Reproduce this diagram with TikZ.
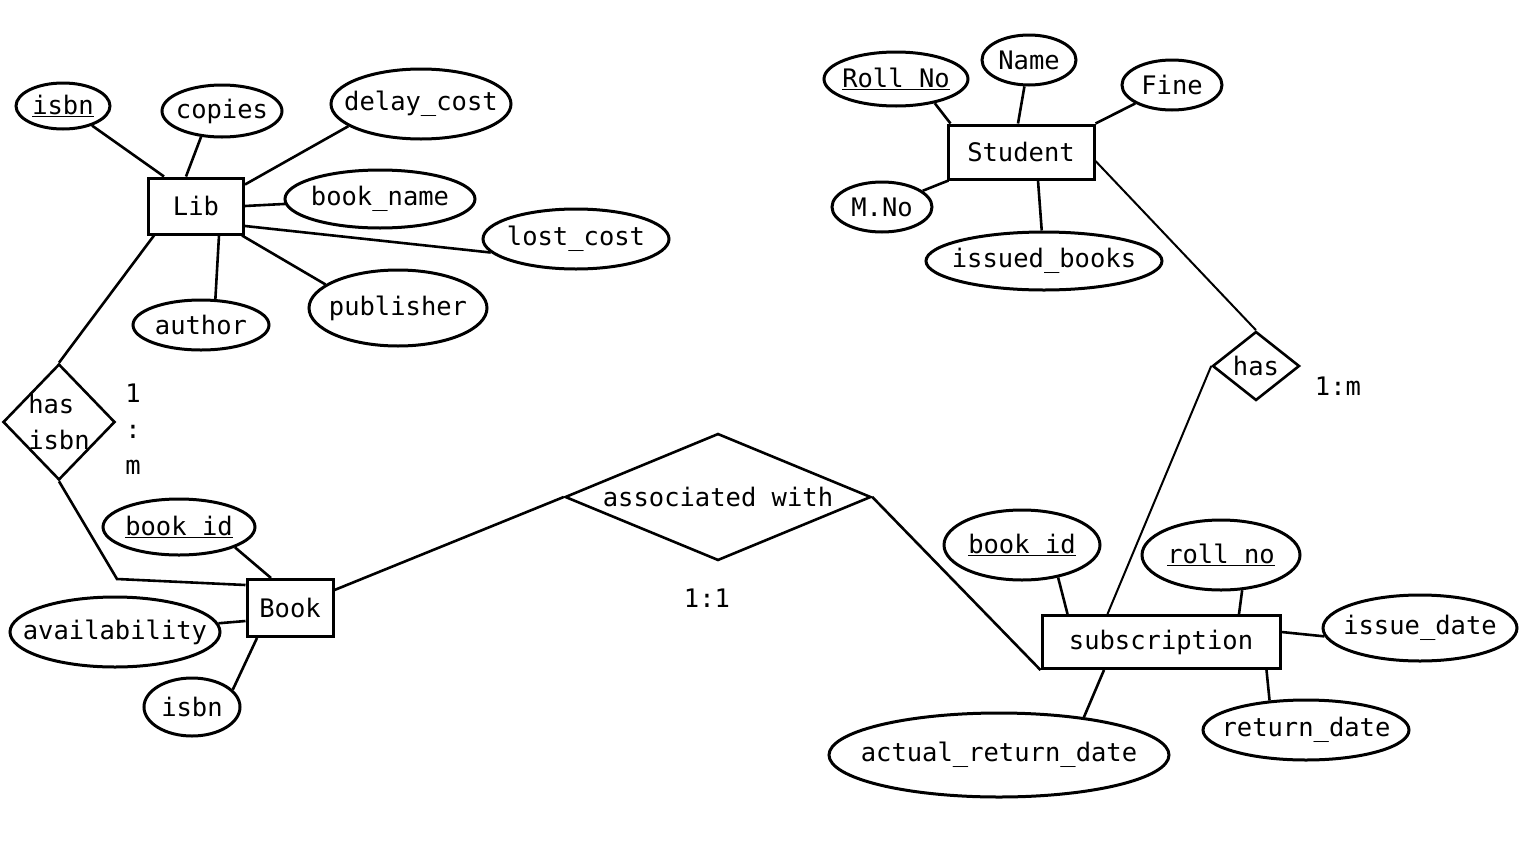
\documentclass[tikz,border=0pt]{standalone}
\usepackage{fontspec}
\setmainfont{DejaVu Sans Mono}
\usetikzlibrary{shapes.geometric}

\begin{document}
\begin{tikzpicture}[x=1pt,y=-1pt,
  every node/.style={font=\fontsize{25.5}{36}\selectfont},
  ent/.style={draw,line width=3pt,rectangle,inner sep=0pt},
  attr/.style={draw,line width=3pt,ellipse,inner xsep=-60pt,inner ysep=0pt},
  rel/.style={draw,line width=2.6pt,diamond,inner xsep=-120pt,inner ysep=0pt},
  lnk/.style={line width=2.6pt},
  rlnk/.style={line width=2pt}]
  \useasboundingbox (0,0) rectangle (1534,846);

  \node[ent,minimum width=95pt,minimum height=56pt] (lib) at (196,206) {Lib};
  \node[attr,minimum width=94pt,minimum height=46pt] (isbn) at (63,106) {\underline{isbn}};
  \node[attr,minimum width=120pt,minimum height=52pt] (copies) at (222,111) {copies};
  \node[attr,minimum width=180pt,minimum height=70pt] (delay) at (421,104) {delay\_cost};
  \node[attr,minimum width=190pt,minimum height=58pt] (bookname) at (380,199) {book\_name};
  \node[attr,minimum width=186pt,minimum height=60pt] (lostcost) at (576,239) {lost\_cost};
  \node[attr,minimum width=178pt,minimum height=76pt] (publisher) at (398,308) {publisher};
  \node[attr,minimum width=136pt,minimum height=50pt] (author) at (201,325) {author};

  \node[rel,minimum width=112pt,minimum height=116pt,align=left] (hasisbn) at (59,422) {has\\isbn};
  \node[align=center] (cardA) at (133,429) {1\\:\\m};
  \coordinate (bend) at (117,579);

  \node[ent,minimum width=86pt,minimum height=57pt] (book) at (290,608) {Book};
  \node[attr,minimum width=152pt,minimum height=56pt] (bookid) at (179,527) {\underline{book id}};
  \node[attr,minimum width=210pt,minimum height=70pt] (avail) at (115,632) {availability};
  \node[attr,minimum width=96pt,minimum height=58pt] (isbnB) at (192,707) {isbn};

  \node[rel,minimum width=306pt,minimum height=127pt] (assoc) at (718,497) {associated with};
  \node (cardB) at (707,598) {1:1};

  \node[ent,minimum width=146pt,minimum height=54pt] (student) at (1021,152) {Student};
  \node[attr,minimum width=144pt,minimum height=54pt] (rollnoS) at (896,79) {\underline{Roll No}};
  \node[attr,minimum width=94pt,minimum height=50pt] (name) at (1029,60) {Name};
  \node[attr,minimum width=100pt,minimum height=50pt] (fine) at (1172,85) {Fine};
  \node[attr,minimum width=100pt,minimum height=50pt] (mno) at (882,207) {M.No};
  \node[attr,minimum width=236pt,minimum height=58pt] (issued) at (1044,261) {issued\_books};

  \node[rel,minimum width=87pt,minimum height=69pt] (has) at (1256,366) {has};
  \node (cardC) at (1338,386) {1:m};

  \node[ent,minimum width=238pt,minimum height=53pt] (sub) at (1161,642) {subscription};
  \node[attr,minimum width=156pt,minimum height=70pt] (bookidS) at (1022,545) {\underline{book id}};
  \node[attr,minimum width=158pt,minimum height=70pt] (rollnoB) at (1221,555) {\underline{roll no}};
  \node[attr,minimum width=194pt,minimum height=66pt] (issue) at (1420,628) {issue\_date};
  \node[attr,minimum width=206pt,minimum height=60pt] (return) at (1306,730) {return\_date};
  \node[attr,minimum width=340pt,minimum height=84pt] (actual) at (999,755) {actual\_return\_date};

  \draw[lnk] (isbn.-34) -- ([xshift=17pt]lib.north west);
  \draw[lnk] (copies.231) -- ([xshift=-10pt]lib.north);
  \draw[lnk] (delay.197) -- ([yshift=-8pt]lib.north east);
  \draw[lnk] (lib.east) -- (bookname);
  \draw[lnk] ([yshift=-20pt]lib.east) -- (lostcost.189);
  \draw[lnk] ([xshift=-3pt]lib.south east) -- (publisher.162);
  \draw[lnk] ([xshift=23pt]lib.south) -- (author.61);
  \draw[lnk] ([xshift=7pt]lib.south west) -- (hasisbn.north);
  \draw[lnk] (hasisbn.south) -- (bend) -- ([yshift=-7pt]book.north west);

  \draw[lnk] (bookid.-20) -- ([xshift=-19pt]book.north);
  \draw[lnk] (avail) -- ([yshift=-13pt]book.west);
  \draw[lnk] (isbnB.23) -- ([xshift=-33pt]book.south);
  \draw[lnk] ([yshift=-12pt]book.north east) -- (assoc.west);
  \draw[lnk] (assoc.east) -- (sub.south west);

  \draw[lnk] (rollnoS.-32) -- ([xshift=4pt]student.north west);
  \draw[lnk] (name) -- ([xshift=-3pt]student.north);
  \draw[lnk] (fine) -- (student.north east);
  \draw[lnk] (mno) -- ([xshift=2pt]student.south west);
  \draw[lnk] ([xshift=17pt]student.south) -- (issued);
  \draw[rlnk] ([yshift=-9pt]student.east) -- (has.north);
  \draw[rlnk] (has.west) -- ([xshift=67pt]sub.north west);

  \draw[lnk] (bookidS.-42) -- ([xshift=27pt]sub.north west);
  \draw[lnk] (rollnoB.-59) -- ([xshift=78pt]sub.north);
  \draw[lnk] ([yshift=10pt]sub.east) -- (issue.185);
  \draw[lnk] ([xshift=-15pt]sub.south east) -- (return.141);
  \draw[lnk] ([xshift=-57pt]sub.south) -- (actual.24);
\end{tikzpicture}
\end{document}
